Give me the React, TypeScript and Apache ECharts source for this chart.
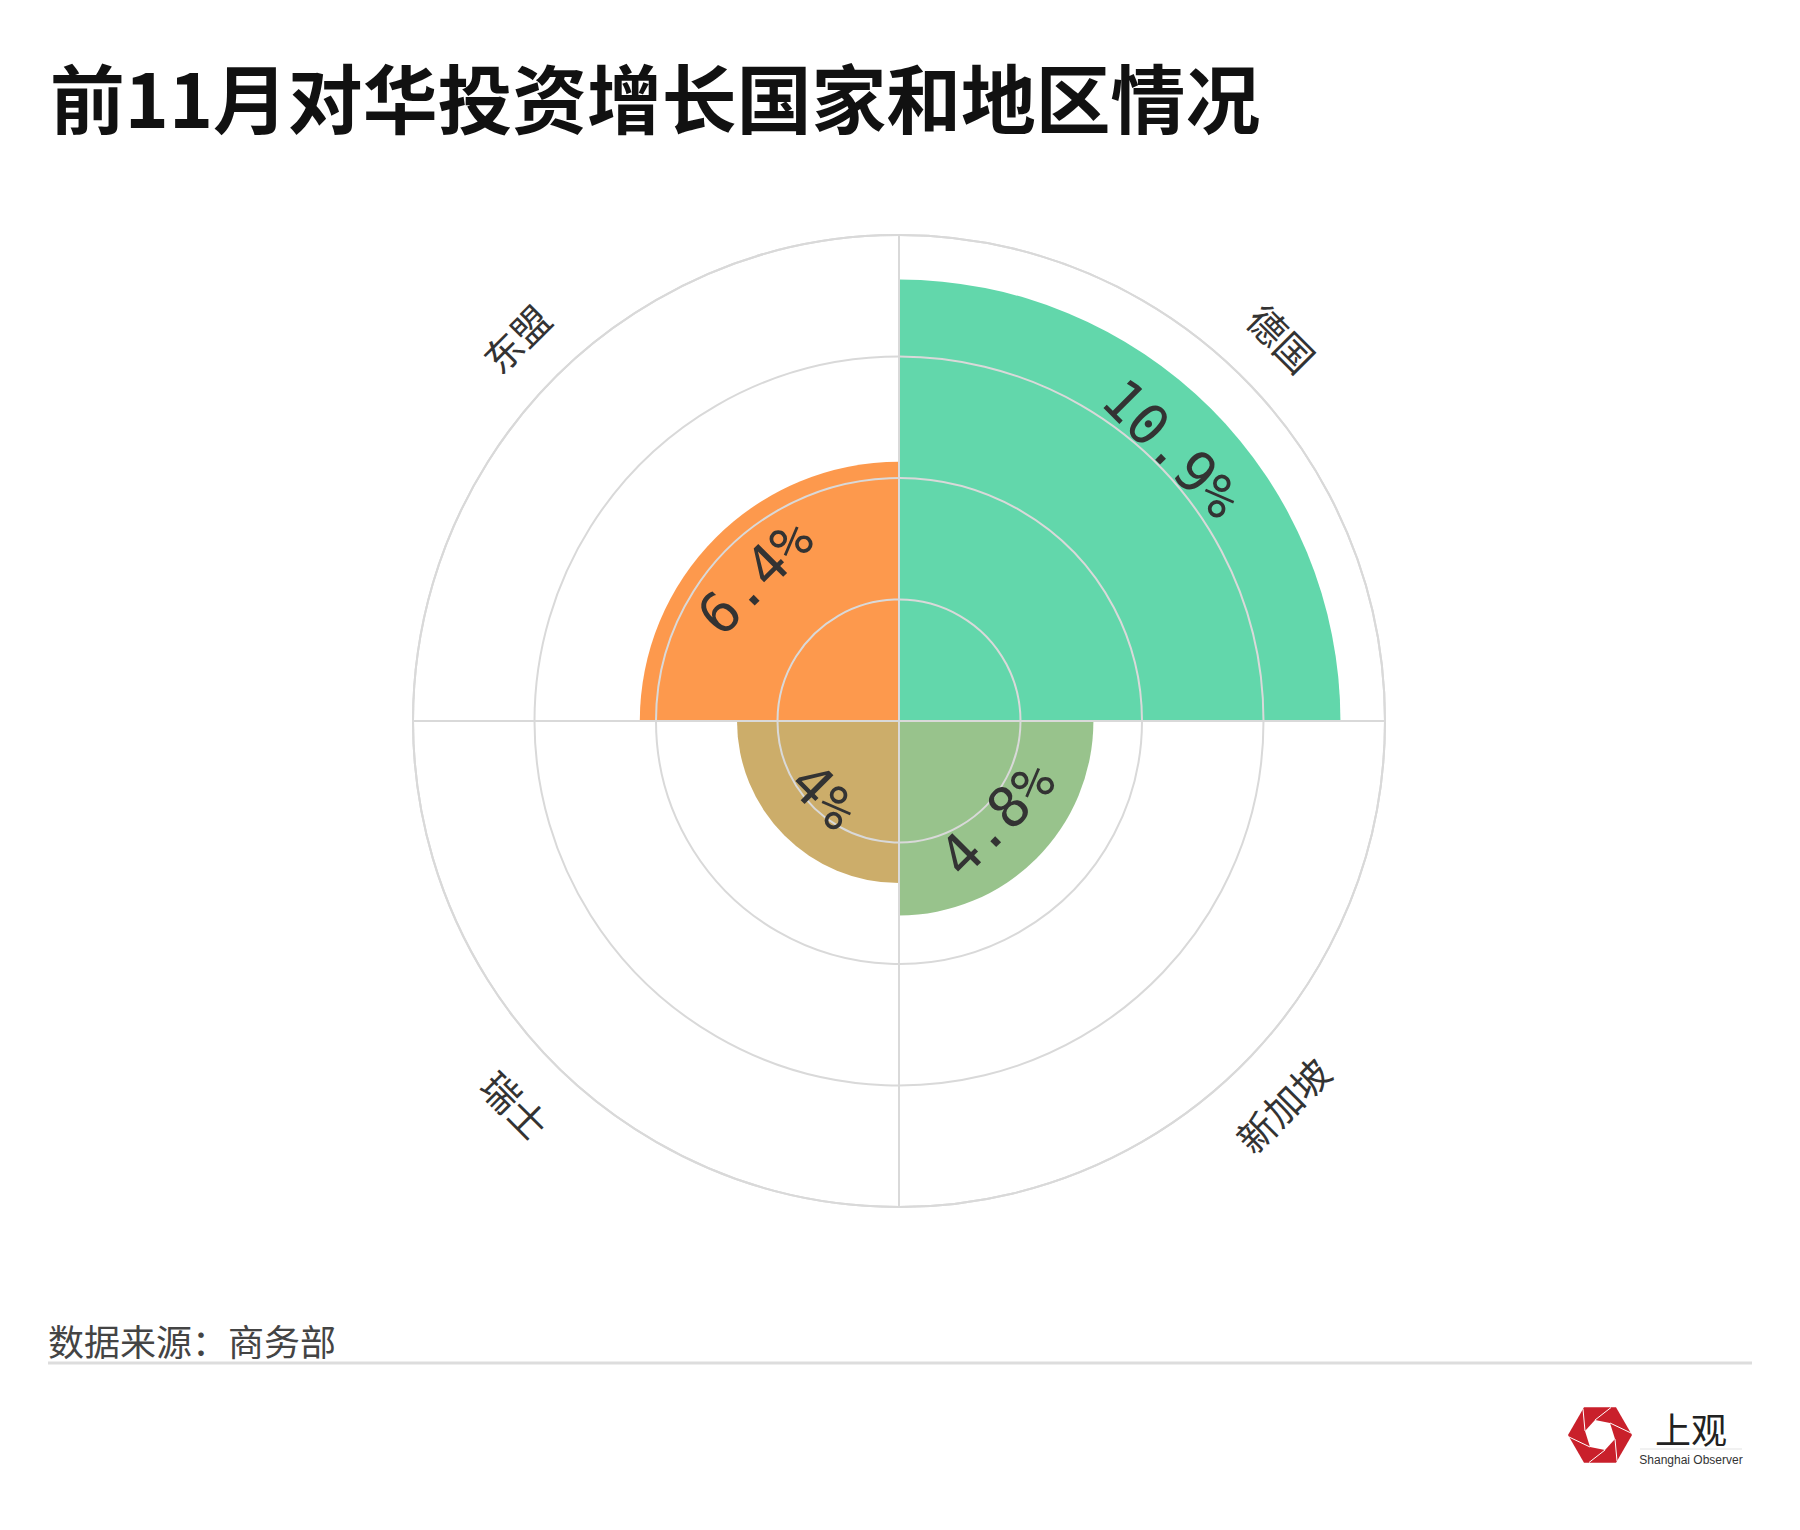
import React, { useEffect, useRef } from 'react';
import * as echarts from 'echarts';

// ---- data ----
const categories = ['德国', '新加坡', '瑞士', '东盟'];
const growth = [10.9, 4.8, 4.0, 6.4];
const valueLabels = ['10.9%', '4.8%', '4%', '6.4%'];
const barColors = ['#62d7ab', '#98c38c', '#ccad6a', '#fd994d'];
const radiusMin = 0;
const radiusMax = 12;
const radiusInterval = 3;

const titleText = '前11月对华投资增长国家和地区情况';
const sourceText = '数据来源：商务部';

const GRID = '#d9d9d9';
const CJK = '"Noto Sans CJK SC", "Noto Sans", sans-serif';

function tangentialRotation(phi: number) {
  const TWO = Math.PI * 2;
  let rot = 1.5 * Math.PI - phi;
  rot = ((rot % TWO) + TWO) % TWO;
  if (rot > Math.PI / 2 && rot < 1.5 * Math.PI) rot -= Math.PI;
  return rot;
}

export default function App() {
  const ref = useRef<HTMLDivElement>(null);

  useEffect(() => {
    document.body.style.margin = '0';
    if (!ref.current) return;
    const chart = echarts.init(ref.current, null, { renderer: 'svg' });

    const option: any = {
      animation: false,
      backgroundColor: '#ffffff',
      polar: { center: [899, 721], radius: 486 },
      angleAxis: {
        type: 'category',
        data: categories,
        startAngle: 90,
        clockwise: true,
        z: 5,
        axisLine: { show: true, lineStyle: { color: GRID, width: 2 } },
        axisTick: { show: false },
        axisLabel: { show: false },
        splitLine: { show: true, lineStyle: { color: GRID, width: 2 } },
      },
      radiusAxis: {
        type: 'value',
        min: radiusMin,
        max: radiusMax,
        interval: radiusInterval,
        z: 5,
        axisLine: { show: false },
        axisTick: { show: false },
        axisLabel: { show: false },
        splitLine: { show: true, lineStyle: { color: GRID, width: 2 } },
      },
      series: [
        {
          type: 'bar',
          coordinateSystem: 'polar',
          barCategoryGap: '0%',
          z: 2,
          data: growth.map((v, i) => ({ value: v, itemStyle: { color: barColors[i] } })),
        },
        {
          type: 'custom',
          coordinateSystem: 'polar',
          z: 20,
          silent: true,
          data: growth.map((v, i) => [v, i]),
          renderItem: (params: any, api: any) => {
            const i = params.dataIndex;
            const v = api.value(0);
            const idx = api.value(1);
            const c = api.coord([0, idx]);
            const e = api.coord([v, idx]);
            const dx = e[0] - c[0];
            const dy = e[1] - c[1];
            const len = Math.hypot(dx, dy);
            const phi = Math.atan2(dy, dx);
            const r = len - 56;
            return {
              type: 'text',
              x: c[0] + Math.cos(phi) * r,
              y: c[1] + Math.sin(phi) * r,
              rotation: tangentialRotation(phi),
              style: {
                text: valueLabels[i],
                fill: '#333333',
                fontSize: 56,
                fontFamily: '"DejaVu Sans Mono", monospace',
                align: 'center',
                verticalAlign: 'middle',
              },
            };
          },
        },
        {
          type: 'custom',
          coordinateSystem: 'polar',
          z: 20,
          silent: true,
          data: categories.map((_, i) => [radiusMax, i]),
          renderItem: (params: any, api: any) => {
            const i = params.dataIndex;
            const v = api.value(0);
            const idx = api.value(1);
            const c = api.coord([0, idx]);
            const e = api.coord([v, idx]);
            const dx = e[0] - c[0];
            const dy = e[1] - c[1];
            const len = Math.hypot(dx, dy);
            const phi = Math.atan2(dy, dx);
            const r = len + 56;
            return {
              type: 'text',
              x: c[0] + Math.cos(phi) * r,
              y: c[1] + Math.sin(phi) * r,
              rotation: tangentialRotation(phi),
              style: {
                text: categories[i],
                fill: '#333333',
                fontSize: 38,
                fontFamily: CJK,
                align: 'center',
                verticalAlign: 'middle',
              },
            };
          },
        },
      ],
      graphic: [
        {
          type: 'text',
          x: 50,
          y: 95,
          style: {
            text: titleText,
            fill: '#111111',
            fontSize: 74.8,
            fontWeight: 'bold',
            fontFamily: CJK,
            align: 'left',
            verticalAlign: 'middle',
          },
        },
        {
          type: 'text',
          x: 48,
          y: 1340,
          style: {
            text: sourceText,
            fill: '#444444',
            fontSize: 36,
            fontFamily: CJK,
            align: 'left',
            verticalAlign: 'middle',
          },
        },
        {
          type: 'line',
          shape: { x1: 48, y1: 1363, x2: 1752, y2: 1363 },
          style: { stroke: '#dddddd', lineWidth: 3 },
        },
        // logo
        {
          type: 'polygon',
          shape: {
            points: [
              [1568, 1435], [1584, 1407.3], [1616, 1407.3],
              [1632, 1435], [1616, 1462.7], [1584, 1462.7],
            ],
          },
          style: { fill: '#c9202b' },
        },
        {
          type: 'polygon',
          shape: {
            points: [
              [1585, 1431], [1595, 1420], [1610, 1423],
              [1615, 1439], [1605, 1450], [1590, 1447],
            ],
          },
          style: { fill: '#ffffff' },
        },
        { type: 'line', shape: { x1: 1595, y1: 1420, x2: 1611, y2: 1407.5 }, style: { stroke: '#ffffff', lineWidth: 1 } },
        { type: 'line', shape: { x1: 1610, y1: 1423, x2: 1631, y2: 1433 }, style: { stroke: '#ffffff', lineWidth: 1 } },
        { type: 'line', shape: { x1: 1615, y1: 1439, x2: 1617, y2: 1461 }, style: { stroke: '#ffffff', lineWidth: 1 } },
        { type: 'line', shape: { x1: 1605, y1: 1450, x2: 1589, y2: 1462.5 }, style: { stroke: '#ffffff', lineWidth: 1 } },
        { type: 'line', shape: { x1: 1590, y1: 1447, x2: 1569, y2: 1437 }, style: { stroke: '#ffffff', lineWidth: 1 } },
        { type: 'line', shape: { x1: 1585, y1: 1431, x2: 1583, y2: 1409 }, style: { stroke: '#ffffff', lineWidth: 1 } },
        {
          type: 'text',
          x: 1691,
          y: 1428,
          style: {
            text: '上观',
            fill: '#222222',
            fontSize: 36,
            fontFamily: CJK,
            align: 'center',
            verticalAlign: 'middle',
          },
        },
        {
          type: 'line',
          shape: { x1: 1640, y1: 1449, x2: 1742, y2: 1449 },
          style: { stroke: '#e3e3e3', lineWidth: 1 },
        },
        {
          type: 'text',
          x: 1691,
          y: 1460,
          style: {
            text: 'Shanghai Observer',
            fill: '#333333',
            fontSize: 12,
            fontFamily: '"Liberation Sans", Arial, sans-serif',
            align: 'center',
            verticalAlign: 'middle',
          },
        },
      ],
    };

    chart.setOption(option);
    return () => chart.dispose();
  }, []);

  return <div ref={ref} style={{ width: 1800, height: 1530 }} />;
}
